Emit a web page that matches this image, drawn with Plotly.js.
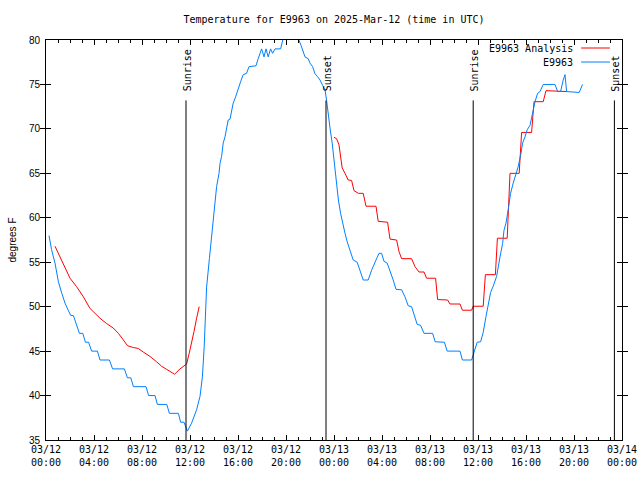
<!DOCTYPE html>
<html>
<head>
<meta charset="utf-8">
<script src="https://cdn.plot.ly/plotly-3.0.1.min.js"></script>
<style>html,body{margin:0;padding:0;background:#fff;}#chart{width:640px;height:480px;}</style>
</head>
<body>
<div id="chart"></div>
<script>
// ---- data ----
var stationName = "E9963";
var analysisName = "E9963 Analysis";

var obsTime = [
"2025-03-12 00:15","2025-03-12 00:28","2025-03-12 00:45","2025-03-12 01:02","2025-03-12 01:19","2025-03-12 01:35",
"2025-03-12 01:51","2025-03-12 02:04","2025-03-12 02:17","2025-03-12 02:33","2025-03-12 02:47","2025-03-12 03:04",
"2025-03-12 03:17","2025-03-12 03:33","2025-03-12 03:48","2025-03-12 04:17","2025-03-12 04:30","2025-03-12 05:17",
"2025-03-12 05:33","2025-03-12 06:32","2025-03-12 06:47","2025-03-12 07:04","2025-03-12 07:17","2025-03-12 08:20",
"2025-03-12 08:33","2025-03-12 09:05","2025-03-12 09:17","2025-03-12 10:04","2025-03-12 10:17","2025-03-12 11:02",
"2025-03-12 11:13","2025-03-12 11:30","2025-03-12 11:47","2025-03-12 12:08","2025-03-12 12:33","2025-03-12 12:50",
"2025-03-12 13:02","2025-03-12 13:11","2025-03-12 13:23","2025-03-12 13:37","2025-03-12 13:51","2025-03-12 14:05",
"2025-03-12 14:13","2025-03-12 14:25","2025-03-12 14:30","2025-03-12 14:38","2025-03-12 14:46","2025-03-12 14:55",
"2025-03-12 15:03","2025-03-12 15:11","2025-03-12 15:20","2025-03-12 15:28","2025-03-12 15:36","2025-03-12 15:48",
"2025-03-12 16:01","2025-03-12 16:13","2025-03-12 16:26","2025-03-12 16:43","2025-03-12 16:55","2025-03-12 17:30",
"2025-03-12 17:41","2025-03-12 17:58","2025-03-12 18:10","2025-03-12 18:20","2025-03-12 18:31","2025-03-12 18:43",
"2025-03-12 18:53","2025-03-12 19:05","2025-03-12 19:33","2025-03-12 19:46","2025-03-12 20:20","2025-03-12 21:01",
"2025-03-12 21:15","2025-03-12 21:26","2025-03-12 21:35","2025-03-12 21:51","2025-03-12 22:00","2025-03-12 22:13",
"2025-03-12 22:25","2025-03-12 22:37","2025-03-12 22:50","2025-03-12 23:03","2025-03-12 23:15","2025-03-12 23:23",
"2025-03-12 23:31","2025-03-12 23:40","2025-03-12 23:51","2025-03-13 00:05","2025-03-13 00:13","2025-03-13 00:22",
"2025-03-13 00:33","2025-03-13 00:43","2025-03-13 00:55","2025-03-13 01:06","2025-03-13 01:20","2025-03-13 01:36",
"2025-03-13 01:56","2025-03-13 02:10","2025-03-13 02:26","2025-03-13 02:51","2025-03-13 03:08","2025-03-13 03:30",
"2025-03-13 03:45","2025-03-13 03:58","2025-03-13 04:10","2025-03-13 04:26","2025-03-13 04:40","2025-03-13 04:56",
"2025-03-13 05:10","2025-03-13 05:38","2025-03-13 05:55","2025-03-13 06:11","2025-03-13 06:28","2025-03-13 06:45",
"2025-03-13 06:56","2025-03-13 07:13","2025-03-13 07:30","2025-03-13 08:13","2025-03-13 08:26","2025-03-13 09:12",
"2025-03-13 09:26","2025-03-13 10:30","2025-03-13 10:42","2025-03-13 11:28","2025-03-13 11:42","2025-03-13 11:56",
"2025-03-13 12:13","2025-03-13 12:26","2025-03-13 12:40","2025-03-13 12:51","2025-03-13 13:03","2025-03-13 13:16",
"2025-03-13 13:33","2025-03-13 13:50","2025-03-13 14:03","2025-03-13 14:10","2025-03-13 14:20","2025-03-13 14:31",
"2025-03-13 14:43","2025-03-13 14:56","2025-03-13 15:10","2025-03-13 15:21","2025-03-13 15:35","2025-03-13 15:43",
"2025-03-13 15:55","2025-03-13 16:06","2025-03-13 16:20","2025-03-13 16:33","2025-03-13 16:45","2025-03-13 16:58",
"2025-03-13 17:10","2025-03-13 17:26","2025-03-13 18:25","2025-03-13 18:38","2025-03-13 18:53","2025-03-13 19:06",
"2025-03-13 19:15","2025-03-13 19:23","2025-03-13 20:26","2025-03-13 20:43"
];
var obsTemp = [
58,56.4,54.9,52.8,51.5,50.4,
49.6,49,49,47.8,47,47,
46,46,45,45,44,44,
43,43,42,42,41,41,
40,40,39,39,38,38,
37,37,36,36.9,38.4,39.9,
42.1,45.5,52.2,55.4,58.6,61.6,
63.5,65,66.1,66.9,68.4,69.1,
70.2,71,71.1,71.9,72.9,73.6,
74.6,75.3,76.1,76.25,77,77.1,
77.9,79,78.1,79,78.1,79,
78.5,79,79,80.2,80.8,80.2,
79.4,78.7,78.1,77.9,77.4,77,
76.2,75.9,75.5,74.9,74.4,73.2,
71.6,70.1,68.4,65.6,63.5,62,
60.5,59.4,58.25,57.3,56.4,55.25,
55,54.1,53,53,54.1,55.25,
56,56,55.1,54.9,54.1,53,
51.95,51.9,51.1,50.1,50,48.9,
48,47.9,47,47,46.05,46,
45,45,44,44,45,46,
46.05,47.1,48.9,50.3,51.6,52.3,
53.4,55.6,57.1,58.6,59.4,60.9,
62.75,63.9,65,65.75,67.25,68.4,
69.1,69.9,70.4,71.75,73.06,74,
74.2,75,75,74.2,74.2,75.5,
76.1,74.2,74.1,75
];

var anaTime = [
"2025-03-12 00:45","2025-03-12 01:10","2025-03-12 01:35","2025-03-12 02:00","2025-03-12 02:33","2025-03-12 03:07",
"2025-03-12 03:40","2025-03-12 04:05","2025-03-12 04:30","2025-03-12 05:03","2025-03-12 05:36","2025-03-12 06:02",
"2025-03-12 06:26","2025-03-12 06:48","2025-03-12 07:17","2025-03-12 07:41","2025-03-12 08:06","2025-03-12 08:40",
"2025-03-12 09:13","2025-03-12 09:38","2025-03-12 10:03","2025-03-12 10:43","2025-03-12 11:10","2025-03-12 11:43",
"2025-03-12 11:56","2025-03-12 12:08","2025-03-12 12:20","2025-03-12 12:33","2025-03-12 12:46",
"2025-03-12 18:00",
"2025-03-13 00:00","2025-03-13 00:13","2025-03-13 00:25","2025-03-13 00:33","2025-03-13 00:41","2025-03-13 00:55",
"2025-03-13 01:11","2025-03-13 01:28","2025-03-13 01:40","2025-03-13 02:02","2025-03-13 02:26","2025-03-13 02:40",
"2025-03-13 03:30","2025-03-13 03:41","2025-03-13 04:28","2025-03-13 04:40","2025-03-13 05:13","2025-03-13 05:25",
"2025-03-13 05:38","2025-03-13 06:28","2025-03-13 06:45","2025-03-13 07:05","2025-03-13 07:30","2025-03-13 07:43",
"2025-03-13 08:28","2025-03-13 08:38","2025-03-13 09:28","2025-03-13 09:40","2025-03-13 10:30","2025-03-13 10:42",
"2025-03-13 11:28","2025-03-13 11:36","2025-03-13 12:26","2025-03-13 12:37","2025-03-13 13:27","2025-03-13 13:37",
"2025-03-13 14:26","2025-03-13 14:40","2025-03-13 15:26","2025-03-13 15:38","2025-03-13 16:28","2025-03-13 16:40",
"2025-03-13 17:26","2025-03-13 17:40","2025-03-13 19:23"
];
var anaTemp = [
56.8,55.6,54.3,53.2,52.25,51.1,
49.8,49.25,48.7,48.1,47.6,47,
46.25,45.6,45.4,45.3,44.9,44.4,
43.8,43.3,42.95,42.4,43,43.55,
44.75,45.9,47.2,48.7,50.0,
null,
69.05,68.9,68.2,66.9,65.6,65,
64.25,64.2,63.05,62.75,62.75,61.3,
61.3,59.6,59.5,57.6,57.5,56.2,
55.4,55.4,54.5,53.9,53.9,53.2,
53.2,50.8,50.75,50.3,50.3,49.6,
49.6,50.05,50.05,53.6,53.6,57.7,
57.7,65,65,69.6,69.6,73.06,
73.06,74.3,74.2
];

var sunTimes = ["2025-03-12 11:40","2025-03-12 23:20","2025-03-13 11:36","2025-03-13 23:22"];
var sunLabels = ["Sunrise","Sunset","Sunrise","Sunset"];

var xRange = ["2025-03-12 00:00","2025-03-14 00:00"];
var yRange = [35, 80];
var titleText = "Temperature for E9963 on 2025-Mar-12 (time in UTC)";
var yLabel = "degrees F";

// ---- styles ----
var RED = "#ff0000", BLUE = "#0080ff";
var MONO = "DejaVu Sans Mono, monospace";
var SANS = "Liberation Sans, Arial, sans-serif";

var traces = [
  {x: anaTime, y: anaTemp, type: "scatter", mode: "lines", name: analysisName,
   line: {color: RED, width: 1}, connectgaps: false, showlegend: false},
  {x: obsTime, y: obsTemp, type: "scatter", mode: "lines", name: stationName,
   line: {color: BLUE, width: 1}, showlegend: false},
  // invisible helper so the top axis (mirrored minor ticks) is drawn
  {x: xRange, y: yRange, xaxis: "x2", yaxis: "y", type: "scatter", mode: "lines",
   line: {width: 0}, opacity: 0, hoverinfo: "skip", showlegend: false}
];

var shapes = [], annotations = [];
sunTimes.forEach(function(t, i){
  shapes.push({type: "line", xref: "x", yref: "paper", x0: t, x1: t, y0: 0, y1: 0.849,
               line: {color: "#000", width: 1}});
  annotations.push({xref: "x", yref: "paper", x: t, y: 0.868, text: sunLabels[i],
                    textangle: -90, showarrow: false, xanchor: "center", yanchor: "bottom",
                    xshift: 1.5, borderpad: 0, font: {family: MONO, size: 10, color: "#000"}});
});

// custom gnuplot-style legend (text then sample line)
var legendItems = [{name: analysisName, color: RED, y: 0.98}, {name: stationName, color: BLUE, y: 0.945}];
legendItems.forEach(function(it){
  annotations.push({xref: "paper", yref: "paper", x: 0.9167, y: it.y, text: it.name, showarrow: false,
                    xanchor: "right", yanchor: "middle", borderpad: 0,
                    font: {family: MONO, size: 10, color: "#000"}});
  shapes.push({type: "line", xref: "paper", yref: "paper", x0: 0.929, x1: 0.979, y0: it.y, y1: it.y,
               line: {color: it.color, width: 1}});
});

var layout = {
  width: 640, height: 480,
  margin: {l: 46, r: 18, t: 40, b: 40, pad: 0},
  paper_bgcolor: "#fff", plot_bgcolor: "#fff",
  title: {text: titleText, font: {family: MONO, size: 10, color: "#000"},
          x: 0.5, xref: "paper", y: 1 - 19/480, yref: "container", yanchor: "middle"},
  showlegend: false,
  xaxis: {type: "date", range: xRange, showgrid: false, zeroline: false,
          showline: true, linecolor: "#000", linewidth: 1, mirror: true,
          ticks: "inside", ticklen: 5, tickcolor: "#000", tickwidth: 1,
          tick0: "2025-03-12 00:00", dtick: 4*3600000, tickformat: "%m/%d<br>%H:%M",
          minor: {dtick: 3600000, ticks: "inside", ticklen: 3, tickcolor: "#000", showgrid: false},
          tickfont: {family: MONO, size: 10, color: "#000"}},
  xaxis2: {type: "date", range: xRange, overlaying: "x", side: "top", showgrid: false, zeroline: false,
          showline: false, showticklabels: false,
          ticks: "inside", ticklen: 5, tickcolor: "#000", tickwidth: 1,
          tick0: "2025-03-12 00:00", dtick: 4*3600000,
          minor: {dtick: 3600000, ticks: "inside", ticklen: 3, tickcolor: "#000", showgrid: false}},
  yaxis: {range: yRange, dtick: 5, tick0: 35, showgrid: false, zeroline: false,
          showline: true, linecolor: "#000", linewidth: 1, mirror: "allticks",
          ticks: "inside", ticklen: 5, tickcolor: "#000", tickwidth: 1,
          ticklabelstandoff: 3,
          tickfont: {family: SANS, size: 10, color: "#000"},
          title: {text: yLabel, font: {family: SANS, size: 10, color: "#000"}, standoff: 10}},
  shapes: shapes,
  annotations: annotations
};

Plotly.newPlot("chart", traces, layout, {staticPlot: true, displayModeBar: false});
</script>
</body>
</html>
